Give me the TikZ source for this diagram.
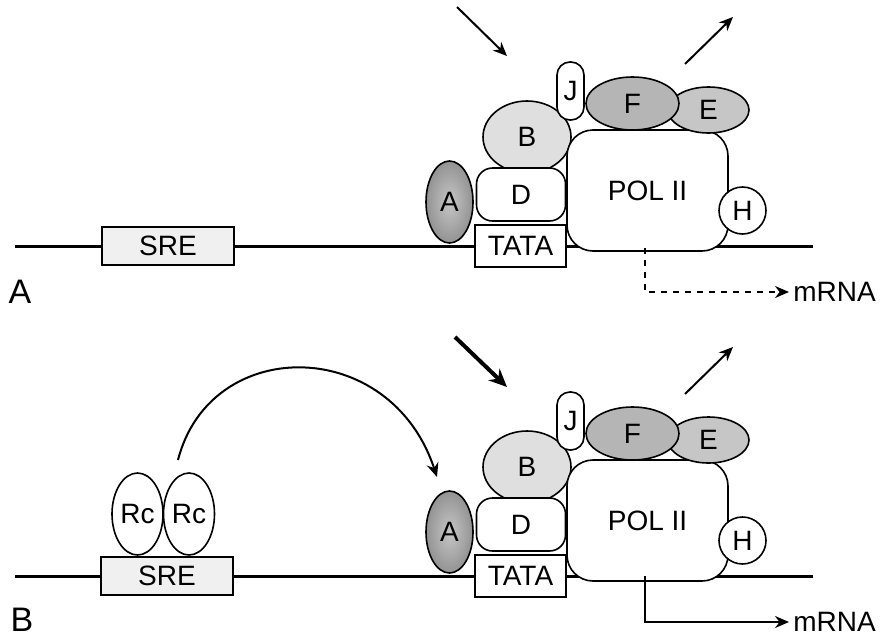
\documentclass[tikz,border=0pt]{standalone}
\usepackage{fontspec}
\setmainfont{Liberation Sans}
\usetikzlibrary{shapes.geometric,arrows.meta}

\tikzset{
  dna/.style={line width=1.5pt},
  part/.style={draw,line width=0.8pt,inner sep=0pt,font=\fontsize{14}{16}\selectfont},
  oval/.style={part,ellipse},
  blob/.style={part,rectangle,rounded corners=#1},
  site/.style={part,rectangle,minimum height=19pt},
  tip/.style={-{Stealth[length=7pt,width=6pt]},line width=1pt},
  panel/.style={font=\fontsize{17}{19}\selectfont,inner sep=0pt}
}

\begin{document}
\begin{tikzpicture}[x=0.5pt,y=-0.5pt]
\useasboundingbox (0,0) rectangle (882,637);

% panel A
\draw[dna] (15,246) -- (813,246);
\node[site,fill=gray!12,minimum width=66pt] (sre1) at (168,246) {SRE};
\node[oval,fill=gray!25,minimum width=44pt,minimum height=36pt] (facB1) at (527,137) {B};
\node[blob=13pt,fill=white,minimum width=80.5pt,minimum height=60.5pt] (pol1) at (647.5,190.5) {POL II};
\node[oval,fill=gray!45,minimum width=40.5pt,minimum height=23pt] (facE1) at (708.5,110) {E};
\node[oval,fill=gray!58,minimum width=46.5pt,minimum height=26.5pt] (facF1) at (632.5,103.5) {F};
\node[blob=6.5pt,fill=white,minimum width=13.5pt,minimum height=29pt] (facJ1) at (570.5,91) {J};
\node[blob=8pt,fill=white,minimum width=44.5pt,minimum height=26.5pt] (facD1) at (521,194.5) {D};
\node[oval,inner color=gray!45,outer color=gray!85,minimum width=23.5pt,minimum height=41pt] (facA1) at (449.5,202) {A};
\node[site,fill=white,minimum width=45.5pt,minimum height=21pt] (tata1) at (520.5,246) {TATA};
\node[part,circle,fill=white,minimum size=23.5pt] (facH1) at (742.5,210.5) {H};

\coordinate (in1) at (457,7);
\coordinate (on1) at (507,56);
\coordinate (off1) at (685,64);
\coordinate (out1) at (733,17);
\draw[tip] (in1) -- (on1);
\draw[tip] (off1) -- (out1);

\coordinate (tx1) at (645,248);
\node[anchor=west,inner sep=2pt,font=\fontsize{14}{16}\selectfont] (mrna1) at (789,292) {mRNA};
\draw[tip,dash pattern=on 3pt off 3pt] (tx1) |- (mrna1.west);
\node[panel] (panA) at (20,292) {A};

% panel B
\draw[dna] (15,576) -- (813,576);
\node[site,fill=gray!12,minimum width=66pt] (sre2) at (167,576) {SRE};
\node[oval,fill=white,minimum width=25.5pt,minimum height=41pt] (rc1) at (137.5,514) {Rc};
\node[oval,fill=white,minimum width=25.5pt,minimum height=41pt] (rc2) at (189,514) {Rc};
\node[oval,fill=gray!25,minimum width=44pt,minimum height=36pt] (facB2) at (527,467) {B};
\node[blob=13pt,fill=white,minimum width=80.5pt,minimum height=60.5pt] (pol2) at (647.5,520.5) {POL II};
\node[oval,fill=gray!45,minimum width=40.5pt,minimum height=23pt] (facE2) at (708.5,440) {E};
\node[oval,fill=gray!58,minimum width=46.5pt,minimum height=26.5pt] (facF2) at (632.5,433.5) {F};
\node[blob=6.5pt,fill=white,minimum width=13.5pt,minimum height=29pt] (facJ2) at (570.5,421) {J};
\node[blob=8pt,fill=white,minimum width=44.5pt,minimum height=26.5pt] (facD2) at (521,524.5) {D};
\node[oval,inner color=gray!45,outer color=gray!85,minimum width=23.5pt,minimum height=41pt] (facA2) at (449.5,532) {A};
\node[site,fill=white,minimum width=45.5pt,minimum height=21pt] (tata2) at (520.5,576) {TATA};
\node[part,circle,fill=white,minimum size=23.5pt] (facH2) at (742.5,540.5) {H};

\coordinate (in2) at (455,337);
\coordinate (on2) at (507,387);
\coordinate (off2) at (685,394);
\coordinate (out2) at (733,347);
\draw[tip,line width=2pt,-{Stealth[length=9pt,width=8pt]}] (in2) -- (on2);
\draw[tip] (off2) -- (out2);

\coordinate (loop2) at (178,460);
\coordinate (land2) at (437,477);
\draw[tip] (loop2) .. controls (210,335) and (390,335) .. (land2);

\coordinate (tx2) at (645,576);
\node[anchor=west,inner sep=2pt,font=\fontsize{14}{16}\selectfont] (mrna2) at (789,622) {mRNA};
\draw[tip] (tx2) |- (mrna2.west);
\node[panel] (panB) at (22,620) {B};
\end{tikzpicture}
\end{document}
